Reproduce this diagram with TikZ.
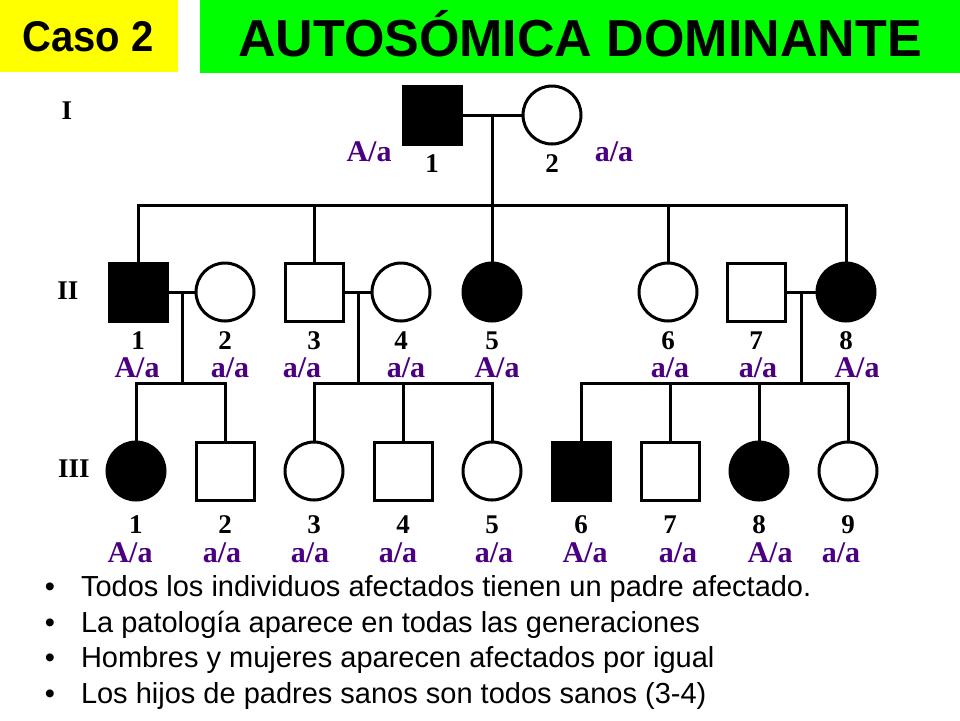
\documentclass[tikz,border=0pt]{standalone}
\usepackage{fontspec}
\setmainfont{Liberation Serif}
\setsansfont{Liberation Sans}
\usetikzlibrary{positioning}
\definecolor{genotipo}{RGB}{75,0,130}
\definecolor{amarillo}{RGB}{255,255,0}
\definecolor{verde}{RGB}{0,255,0}
\begin{document}
\begin{tikzpicture}[x=0.5pt,y=-0.5pt,semithick]
			\tikzstyle{every node}=[inner sep=0pt,outer sep=0pt]
			\tikzstyle{varon}=[rectangle,draw=black,line width=1.5pt,fill=white,minimum size=29pt]
			\tikzstyle{mujer}=[circle,draw=black,line width=1.5pt,fill=white,minimum size=29pt]
			\tikzstyle{afectado}=[fill=black]
			\tikzstyle{num}=[font=\bfseries\fontsize{13.5}{13.5}\selectfont]
			\tikzstyle{geno}=[anchor=base,text=genotipo,font=\bfseries\fontsize{15}{15}\selectfont]
			\tikzstyle{gen}=[font=\bfseries\fontsize{13.5}{13.5}\selectfont]
			\tikzstyle{linea}=[line width=1.5pt]
			\tikzstyle{vineta}=[anchor=base west,font=\sffamily\fontsize{14.5}{14.5}\selectfont]
			\useasboundingbox (0,0) rectangle (960,720);
			% cabecera
			\fill[amarillo] (0,0) rectangle (178,72);
			\fill[verde] (200,0) rectangle (960,73);
			\node[anchor=base,font=\sffamily\bfseries\fontsize{21.5}{21.5}\selectfont] (caso) at (88,51) {\scalebox{0.93}[1]{Caso 2}};
			\node[anchor=base,font=\sffamily\bfseries\fontsize{26}{26}\selectfont] (titulo) at (580,56) {\scalebox{1}[1]{AUTOSÓMICA DOMINANTE}};
			% generacion I
			\node[gen]              (gI)   at (67,111)                         {I};
			\node[varon,afectado]   (i1)   at (432,115)                        {};
			\node[mujer]            (i2)   [right of=i1,node distance=60pt]    {};
			\node[num]              (ni1)  [below of=i1,node distance=24.5pt]  {1};
			\node[num]              (ni2)  [below of=i2,node distance=24.5pt]  {2};
			\node[geno]             (gi1)  at (369,161)                        {A/a};
			\node[geno]             (gi2)  at (614,161)                        {a/a};
			\coordinate (mi) at (492,115);
			\coordinate (si) at (492,205);
			% generacion II
			\node[gen]              (gII)  at (68,291)                         {II};
			\node[varon,afectado]   (ii1)  at (138,292)                        {};
			\node[mujer]            (ii2)  [right of=ii1,node distance=43.5pt] {};
			\node[varon]            (ii3)  [right of=ii2,node distance=44.5pt] {};
			\node[mujer]            (ii4)  [right of=ii3,node distance=43.5pt] {};
			\node[mujer,afectado]   (ii5)  [right of=ii4,node distance=45.5pt] {};
			\node[mujer]            (ii6)  [right of=ii5,node distance=88pt]   {};
			\node[varon]            (ii7)  [right of=ii6,node distance=44pt]   {};
			\node[mujer,afectado]   (ii8)  [right of=ii7,node distance=45pt]   {};
			\node[num]              (nii1) [below of=ii1,node distance=24.5pt] {1};
			\node[num]              (nii2) [below of=ii2,node distance=24.5pt] {2};
			\node[num]              (nii3) [below of=ii3,node distance=24.5pt] {3};
			\node[num]              (nii4) [below of=ii4,node distance=24.5pt] {4};
			\node[num]              (nii5) [below of=ii5,node distance=24.5pt] {5};
			\node[num]              (nii6) [below of=ii6,node distance=24.5pt] {6};
			\node[num]              (nii7) [below of=ii7,node distance=24.5pt] {7};
			\node[num]              (nii8) [below of=ii8,node distance=24.5pt] {8};
			\node[geno]             (gii1) at (137,377)                        {A/a};
			\node[geno]             (gii2) at (230,377)                        {a/a};
			\node[geno]             (gii3) at (302,377)                        {a/a};
			\node[geno]             (gii4) at (406,377)                        {a/a};
			\node[geno]             (gii5) at (497,377)                        {A/a};
			\node[geno]             (gii6) at (670,377)                        {a/a};
			\node[geno]             (gii7) at (758,377)                        {a/a};
			\node[geno]             (gii8) at (857,377)                        {A/a};
			\coordinate (mii1) at (182,292);
			\coordinate (sii1) at (182,383);
			\coordinate (mii3) at (358,292);
			\coordinate (sii3) at (358,383);
			\coordinate (mii7) at (801,292);
			\coordinate (sii7) at (801,383);
			% generacion III
			\node[gen]              (gIII)  at (74,469)                           {III};
			\node[mujer,afectado]   (iii1)  at (136,471)                          {};
			\node[varon]            (iii2)  [right of=iii1,node distance=44.5pt]  {};
			\node[mujer]            (iii3)  [right of=iii2,node distance=44.5pt]  {};
			\node[varon]            (iii4)  [right of=iii3,node distance=44.5pt]  {};
			\node[mujer]            (iii5)  [right of=iii4,node distance=44.5pt]  {};
			\node[varon,afectado]   (iii6)  [right of=iii5,node distance=44.5pt]  {};
			\node[varon]            (iii7)  [right of=iii6,node distance=44.5pt]  {};
			\node[mujer,afectado]   (iii8)  [right of=iii7,node distance=44.5pt]  {};
			\node[mujer]            (iii9)  [right of=iii8,node distance=44.5pt]  {};
			\node[num]              (niii1) [below of=iii1,node distance=26.75pt] {1};
			\node[num]              (niii2) [below of=iii2,node distance=26.75pt] {2};
			\node[num]              (niii3) [below of=iii3,node distance=26.75pt] {3};
			\node[num]              (niii4) [below of=iii4,node distance=26.75pt] {4};
			\node[num]              (niii5) [below of=iii5,node distance=26.75pt] {5};
			\node[num]              (niii6) [below of=iii6,node distance=26.75pt] {6};
			\node[num]              (niii7) [below of=iii7,node distance=26.75pt] {7};
			\node[num]              (niii8) [below of=iii8,node distance=26.75pt] {8};
			\node[num]              (niii9) [below of=iii9,node distance=26.75pt] {9};
			\node[geno]             (giii1) at (130,562)                          {A/a};
			\node[geno]             (giii2) at (222,562)                          {a/a};
			\node[geno]             (giii3) at (310,562)                          {a/a};
			\node[geno]             (giii4) at (398,562)                          {a/a};
			\node[geno]             (giii5) at (494,562)                          {a/a};
			\node[geno]             (giii6) at (585,562)                          {A/a};
			\node[geno]             (giii7) at (678,562)                          {a/a};
			\node[geno]             (giii8) at (770,562)                          {A/a};
			\node[geno]             (giii9) at (841,562)                          {a/a};
			% lineas
			\draw[linea] (i1) -- (i2);
			\draw[linea] (mi) -- (si);
			\draw[linea] (ii1.north) |- (ii8.north |- si) -- (ii8.north);
			\draw[linea] (ii3.north) -- (ii3.north |- si);
			\draw[linea] (ii5.north) -- (ii5.north |- si);
			\draw[linea] (ii6.north) -- (ii6.north |- si);
			\draw[linea] (ii1) -- (ii2);
			\draw[linea] (ii3) -- (ii4);
			\draw[linea] (ii7) -- (ii8);
			\draw[linea] (mii1) -- (sii1);
			\draw[linea] (mii3) -- (sii3);
			\draw[linea] (mii7) -- (sii7);
			\draw[linea] (iii1.north) |- (iii2.north |- sii1) -- (iii2.north);
			\draw[linea] (iii3.north) |- (iii5.north |- sii3) -- (iii5.north);
			\draw[linea] (iii4.north) -- (iii4.north |- sii3);
			\draw[linea] (iii6.north) |- (iii9.north |- sii7) -- (iii9.north);
			\draw[linea] (iii7.north) -- (iii7.north |- sii7);
			\draw[linea] (iii8.north) -- (iii8.north |- sii7);
			% texto
			\node[vineta,anchor=base] (p1) at (50,596) {•};
			\node[vineta,anchor=base] (p2) at (50,632) {•};
			\node[vineta,anchor=base] (p3) at (50,667) {•};
			\node[vineta,anchor=base] (p4) at (50,703) {•};
			\node[vineta] (t1) at (81,596) {Todos los individuos afectados tienen un padre afectado.};
			\node[vineta] (t2) at (81,632) {La patología aparece en todas las generaciones};
			\node[vineta] (t3) at (81,667) {Hombres y mujeres aparecen afectados por igual};
			\node[vineta] (t4) at (81,703) {Los hijos de padres sanos son todos sanos (3-4)};
		\end{tikzpicture}
\end{document}
